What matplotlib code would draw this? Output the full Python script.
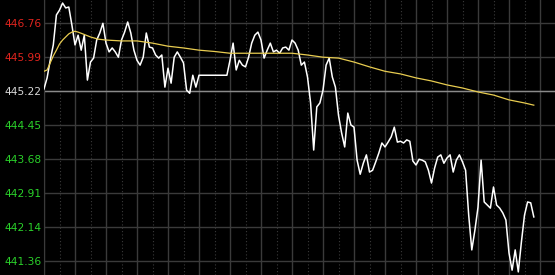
import matplotlib
matplotlib.use('Agg')
import matplotlib.pyplot as plt
import numpy as np
from matplotlib.ticker import MultipleLocator

# intraday price, one point every 2 minutes from the open
price = [
    445.27, 445.52, 445.92, 446.27, 446.95, 447.06, 447.22, 447.11, 447.13, 446.72,
    446.27, 446.49, 446.15, 446.49, 445.47, 445.88, 445.97, 446.38, 446.54, 446.76,
    446.31, 446.11, 446.20, 446.11, 445.99, 446.38, 446.56, 446.79, 446.54, 446.15,
    445.92, 445.81, 445.99, 446.54, 446.22, 446.20, 446.04, 445.97, 446.04, 445.31,
    445.74, 445.40, 445.99, 446.11, 445.99, 445.86, 445.24, 445.17, 445.58, 445.31,
    445.58, 445.58, 445.58, 445.58, 445.58, 445.58, 445.58, 445.58, 445.58, 445.58,
    445.92, 446.31, 445.70, 445.92, 445.81, 445.77, 445.99, 446.31, 446.49, 446.56,
    446.38, 445.97, 446.15, 446.31, 446.11, 446.15, 446.08, 446.20, 446.22, 446.15,
    446.38, 446.31, 446.15, 445.81, 445.88, 445.54, 444.95, 443.88, 444.86, 444.95,
    445.24, 445.81, 445.97, 445.54, 445.31, 444.67, 444.27, 443.95, 444.72, 444.45,
    444.40, 443.65, 443.33, 443.58, 443.77, 443.38, 443.42, 443.61, 443.81, 444.04,
    443.95, 444.06, 444.18, 444.40, 444.06, 444.08, 444.04, 444.11, 444.08, 443.63,
    443.54, 443.67, 443.65, 443.61, 443.42, 443.13, 443.47, 443.72, 443.77, 443.58,
    443.70, 443.77, 443.38, 443.65, 443.77, 443.61, 443.42, 442.40, 441.61, 442.06,
    442.58, 443.65, 442.70, 442.63, 442.56, 443.04, 442.63, 442.56, 442.45, 442.29,
    441.54, 441.15, 441.61, 441.11, 441.79, 442.40, 442.70, 442.68, 442.36,
]
minutes = np.arange(0, 2 * len(price), 2)

# average price line
avg_minutes = [0, 2, 4, 6, 8, 10, 12, 14, 16, 18, 20, 22, 25, 30, 35, 40, 50, 60, 70, 80,
               90, 100, 110, 120, 130, 140, 150, 160, 170, 180, 190, 200, 210, 220, 230,
               240, 250, 260, 270, 280, 290, 300, 310, 316]
avg_price = [445.67, 445.70, 445.86, 446.02, 446.15, 446.29, 446.38, 446.45, 446.52, 446.56,
             446.58, 446.56, 446.52, 446.45, 446.40, 446.38, 446.36, 446.36, 446.31, 446.24,
             446.20, 446.15, 446.12, 446.08, 446.08, 446.08, 446.08, 446.08, 446.04, 445.99,
             445.97, 445.88, 445.77, 445.67, 445.61, 445.52, 445.45, 445.36, 445.29, 445.20,
             445.13, 445.02, 444.95, 444.90]

prev_close = 445.22
levels = [446.76, 445.99, 445.22, 444.45, 443.68, 442.91, 442.14, 441.36]
level_labels = ['446.76', '445.99', '445.22', '444.45', '443.68', '442.91', '442.14', '441.36']

fig = plt.figure(figsize=(5.55, 2.75), dpi=100, facecolor='black')
ax = fig.add_axes([44 / 555, 0, 511.5 / 555, 1])
ax.set_facecolor('black')

ax.set_xlim(0, 330)
ax.set_ylim(441.04, 447.29)

# grid: solid every 20 min, dotted in between
ax.xaxis.set_major_locator(MultipleLocator(20))
ax.xaxis.set_minor_locator(MultipleLocator(10))
ax.grid(True, which='major', axis='x', color='#3a3a3a', lw=1.0, ls='-')
ax.grid(True, which='minor', axis='x', color='#3a3a3a', lw=0.8, ls=(0, (1, 2)))
ax.set_yticks(levels)
ax.set_yticklabels(level_labels)
ax.grid(True, which='major', axis='y', color='#3a3a3a', lw=1.0, ls='-')
ax.set_axisbelow(True)
ax.axhline(prev_close, color='#8a8a8a', lw=1.0, zorder=1)

ax.plot(minutes, price, color='white', lw=1.1, zorder=3)
ax.plot(avg_minutes, avg_price, color='#e8cc50', lw=0.9, zorder=4)

ax.tick_params(axis='x', which='both', length=0, labelbottom=False)
ax.tick_params(axis='y', length=0, pad=2, labelsize=7.7)
for lbl, v in zip(ax.get_yticklabels(), levels):
    if v > prev_close + 0.001:
        lbl.set_color('#e0241e')
    elif v < prev_close - 0.001:
        lbl.set_color('#2ad12a')
    else:
        lbl.set_color('#d8d8d8')

for side in ['top', 'right', 'bottom']:
    ax.spines[side].set_visible(False)
ax.spines['left'].set_color('#3a3a3a')

fig.savefig('out.png', dpi=100, facecolor='black')
